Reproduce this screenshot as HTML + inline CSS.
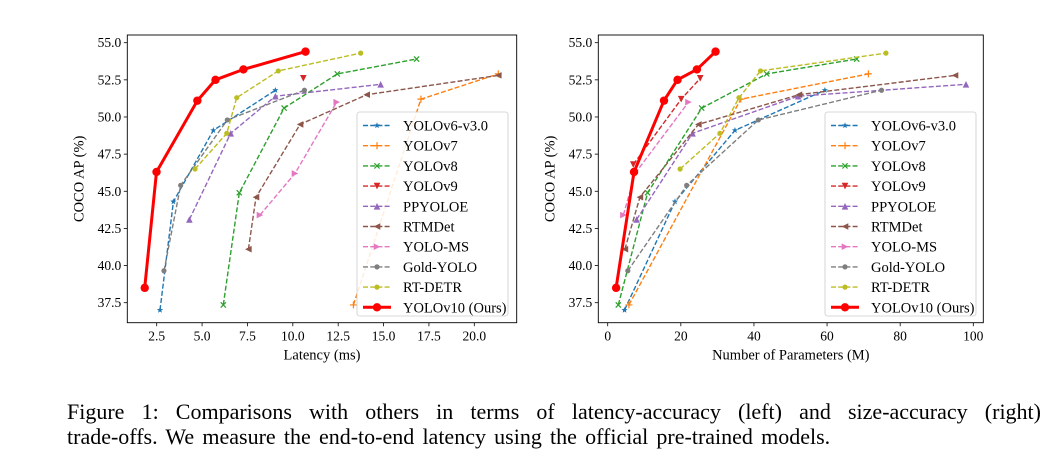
<!DOCTYPE html>
<html><head><meta charset="utf-8"><style>
html,body{margin:0;padding:0;background:#fff;width:1064px;height:471px;overflow:hidden}
svg{display:block;font-family:"Liberation Serif",serif}
.cap{position:absolute;left:67px;top:399px;width:974px;font-family:"Liberation Serif",serif;font-size:22px;line-height:25px;color:#000}
.cap .l1{display:block;text-align:justify;text-align-last:justify}
.cap .l2{word-spacing:2.7px}
</style></head><body>
<svg id="fig" width="1064" height="471" xmlns="http://www.w3.org/2000/svg"></svg>
<div class="cap"><div class="l1">Figure 1: Comparisons with others in terms of latency-accuracy (left) and size-accuracy (right)</div><div class="l2">trade-offs. We measure the end-to-end latency using the official pre-trained models.</div></div>
<script>
const seriesNames=["YOLOv6-v3.0","YOLOv7","YOLOv8","YOLOv9","PPYOLOE","RTMDet","YOLO-MS","Gold-YOLO","RT-DETR","YOLOv10 (Ours)"];
const seriesAP=[[37.0,44.3,49.1,51.8],[37.35,51.2,52.9],[37.35,44.9,50.6,52.9,53.9],[46.8,51.2,52.6],[43.1,48.9,51.4,52.2],[41.1,44.6,49.5,51.5,52.8],[43.4,46.2,51.0],[39.65,45.4,49.8,51.8],[46.5,48.9,51.3,53.1,54.3],[38.5,46.3,51.1,52.5,53.2,54.4]];
const seriesLatency=[[2.68,3.42,5.62,9.04],[13.34,17.06,21.32],[6.17,7.05,9.52,12.45,16.82],[null,null,10.58],[4.30,6.58,9.04,14.84],[7.55,7.97,10.4,14.07,21.32],[8.19,10.12,12.42],[2.9,3.82,6.39,10.64],[4.61,6.36,6.91,9.2,13.74],[1.84,2.49,4.74,5.74,7.28,10.70]];
const seriesParams=[[4.6,18.4,34.8,59.4],[5.8,36.4,71.3],[2.9,10.9,25.7,43.5,68.1],[7.0,20.1,25.3],[7.9,23.2,52.1,98.0],[4.7,8.8,24.8,52.3,95.0],[4.3,7.5,22.1],[5.5,21.6,41.2,74.9],[19.8,30.7,35.9,41.8,76.1],[2.3,7.2,15.4,19.1,24.4,29.5]];
const yTicks=[37.5,40.0,42.5,45.0,47.5,50.0,52.5,55.0];
const xTicksLeft=[2.5,5.0,7.5,10.0,12.5,15.0,17.5,20.0];
const xTicksRight=[0,20,40,60,80,100];
const colors=["#1f77b4","#ff7f0e","#2ca02c","#d62728","#9467bd","#8c564b","#e377c2","#7f7f7f","#bcbd22","#ff0000"];
const markers=["star","plus","x","v","^","<",">","o","o","O"];
const NS="http://www.w3.org/2000/svg";
const svg=document.getElementById('fig');
function mk(tag,attrs,parent){const e=document.createElementNS(NS,tag);for(const k in attrs)e.setAttribute(k,attrs[k]);(parent||svg).appendChild(e);return e;}
function marker(g,type,x,y,c){
  let e;
  if(type==="O"){e=mk('circle',{cx:x,cy:y,r:4.2,fill:c},g);}
  else if(type==="o"){e=mk('circle',{cx:x,cy:y,r:2.6,fill:c},g);}
  else if(type==="plus"){e=mk('path',{d:`M${x-3.5} ${y}H${x+3.5}M${x} ${y-3.5}V${y+3.5}`,stroke:c,'stroke-width':1.2,fill:'none'},g);}
  else if(type==="x"){e=mk('path',{d:`M${x-2.6} ${y-2.6}L${x+2.6} ${y+2.6}M${x-2.6} ${y+2.6}L${x+2.6} ${y-2.6}`,stroke:c,'stroke-width':1.2,fill:'none'},g);}
  else if(type==="star"){let p='';for(let i=0;i<10;i++){const r=i%2?1.4:3.3,a=-Math.PI/2+i*Math.PI/5;p+=(i?'L':'M')+(x+r*Math.cos(a)).toFixed(2)+' '+(y+r*Math.sin(a)).toFixed(2);}e=mk('path',{d:p+'Z',fill:c},g);}
  else{const s=3.3;let pts;
    if(type==="v")pts=[[x-s,y-s],[x+s,y-s],[x,y+s]];
    else if(type==="^")pts=[[x-s,y+s],[x+s,y+s],[x,y-s]];
    else if(type==="<")pts=[[x+s,y-s],[x+s,y+s],[x-s,y]];
    else pts=[[x-s,y-s],[x-s,y+s],[x+s,y]];
    e=mk('polygon',{points:pts.map(p=>p.join(',')).join(' '),fill:c},g);}
  
  
}
function chart(cfg){
  const {name,L,R,T,B,xmin,xmax,x0,x1,xTicks,xFmt,xData,xLabel,legX}=cfg;
  const g=mk('g',{});
  const sx=v=>x0+(v-xmin)*(x1-x0)/(xmax-xmin);
  const sy=v=>42.7+(55-v)*(302.7-42.7)/17.5;
  yTicks.forEach(t=>{const y=sy(t);mk('line',{x1:L-3.5,x2:L,y1:y,y2:y,stroke:'#000','stroke-width':0.8},g);
    const tx=mk('text',{x:L-6,y:y+4.5,'text-anchor':'end','font-size':13.5},g);tx.textContent=t.toFixed(1);
    });
  xTicks.forEach(t=>{const x=sx(t);mk('line',{x1:x,x2:x,y1:B,y2:B+3.5,stroke:'#000','stroke-width':0.8},g);
    const tx=mk('text',{x:x,y:B+18,'text-anchor':'middle','font-size':13.5},g);tx.textContent=xFmt(t);
    });
  const xl=mk('text',{x:(L+R)/2,y:B+37,'text-anchor':'middle','font-size':14.5},g);xl.textContent=xLabel;
  
  const yl=mk('text',{x:0,y:0,'text-anchor':'middle','font-size':14.5,transform:`translate(${L-44},${(T+B)/2}) rotate(-90)`},g);yl.textContent="COCO AP (%)";
  
  seriesNames.forEach((n,i)=>{
    const sg=mk('g',{},g);
    const pts=[];xData[i].forEach((v,j)=>{if(v!=null)pts.push([sx(v),sy(seriesAP[i][j])]);});
    const last=i===9;
    if(pts.length>1){const pl=mk('polyline',{points:pts.map(p=>p.map(a=>a.toFixed(1)).join(',')).join(' '),fill:'none',stroke:colors[i],'stroke-width':last?3:1.4,'stroke-dasharray':last?'none':'5,2.2'},sg);
      }
    pts.forEach(p=>marker(sg,markers[i],p[0],p[1],colors[i]));
  });
  mk('rect',{x:L,y:T,width:R-L,height:B-T,fill:'none',stroke:'#000','stroke-width':0.9},g);
  const lg=mk('g',{},g);
  mk('rect',{x:legX,y:112,width:151,height:204,rx:2.5,fill:'#fff','fill-opacity':0.85,stroke:'#ccc','stroke-width':0.8},lg);
  seriesNames.forEach((n,i)=>{
    const y=125.5+i*20.2;const last=i===9;
    const eg=mk('g',{},lg);
    mk('line',{x1:legX+6,x2:legX+34,y1:y,y2:y,stroke:colors[i],'stroke-width':last?3:1.4,'stroke-dasharray':last?'none':'5,2.2'},eg);
    marker(eg,markers[i],legX+20,y,colors[i]);
    const t=mk('text',{x:legX+46,y:y+5,'font-size':14.5},eg);t.textContent=n;
  });
}
chart({name:'latency-chart',L:127.3,R:516.7,T:35,B:322.7,xmin:2.5,xmax:20,x0:156.7,x1:474.3,xTicks:xTicksLeft,xFmt:t=>t.toFixed(1),xData:seriesLatency,xLabel:'Latency (ms)',legX:357});
chart({name:'params-chart',L:598.3,R:983.3,T:35,B:322.7,xmin:0,xmax:100,x0:607.7,x1:973.3,xTicks:xTicksRight,xFmt:t=>String(t),xData:seriesParams,xLabel:'Number of Parameters (M)',legX:825});
</script>
</body></html>
